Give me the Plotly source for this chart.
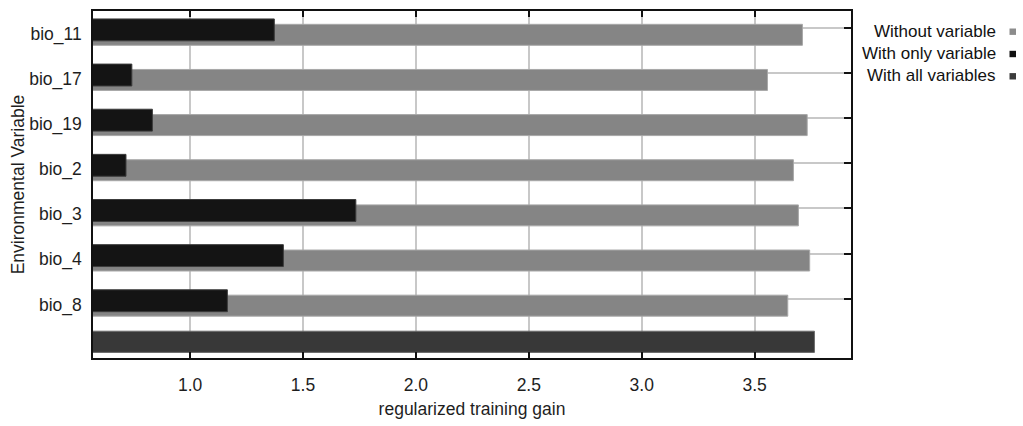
import plotly.graph_objects as go

# Jackknife of regularized training gain
variables = ["bio_11", "bio_17", "bio_19", "bio_2", "bio_3", "bio_4", "bio_8"]
gain_without = [3.712, 3.557, 3.733, 3.672, 3.694, 3.744, 3.647]
gain_only = [1.373, 0.742, 0.833, 0.716, 1.734, 1.413, 1.165]
gain_all = 3.765

x_ticks = [1.0, 1.5, 2.0, 2.5, 3.0, 3.5]
legend_names = ["Without variable", "With only variable", "With all variables"]

C_WITHOUT = "#858585"
C_ONLY = "#141414"
C_ALL = "#383838"
FONT = "Liberation Sans, Arial, sans-serif"
TXT = "#1e1e1e"

rows = list(range(len(variables)))
all_row = len(variables)

fig = go.Figure()

fig.add_trace(go.Bar(
    y=rows, x=gain_without, orientation="h",
    offset=-0.205, width=0.465,
    marker=dict(color=C_WITHOUT, line=dict(color="#a8a8a8", width=1)),
    name=legend_names[0], showlegend=False,
))
fig.add_trace(go.Bar(
    y=rows, x=gain_only, orientation="h",
    offset=-0.324, width=0.485,
    marker=dict(color=C_ONLY, line=dict(color="#3c3c3c", width=1)),
    name=legend_names[1], showlegend=False,
))
fig.add_trace(go.Bar(
    y=[all_row], x=[gain_all], orientation="h",
    offset=-0.407, width=0.47,
    marker=dict(color=C_ALL, line=dict(color="#6a6a6a", width=1)),
    name=legend_names[2], showlegend=False,
))

grid_rows = [r - 0.126 for r in rows]

fig.update_layout(
    width=1023, height=426,
    margin=dict(l=93, r=172, t=9, b=68, pad=0),
    paper_bgcolor="white", plot_bgcolor="white",
    barmode="overlay",
    font=dict(family=FONT, size=17.5, color=TXT),
    showlegend=False,
    xaxis=dict(
        range=[0.570, 3.927],
        tickvals=x_ticks, ticktext=[f"{v:.1f}" for v in x_ticks],
        showgrid=True, gridcolor="#c8c8c8", gridwidth=1.5,
        ticks="inside", ticklen=6, tickwidth=1.5, tickcolor="#111",
        showline=True, linecolor="#111", linewidth=1.5, mirror="ticks",
        zeroline=False, ticklabelstandoff=10,
        title=dict(text="regularized training gain", standoff=9,
                   font=dict(size=17.5)),
    ),
    yaxis=dict(
        range=[7.187, -0.5],
        tickvals=rows, ticktext=variables,
        showgrid=False, zeroline=False, ticks="",
        minor=dict(tickmode="array", tickvals=grid_rows, showgrid=True,
                   gridcolor="#c8c8c8", gridwidth=1.5, ticks=""),
        showline=True, linecolor="#111", linewidth=1.5, mirror=True,
        ticklabelstandoff=6,
        title=dict(text="Environmental Variable", standoff=0,
                   font=dict(size=17.5)),
    ),
    yaxis2=dict(
        range=[7.187, -0.5], overlaying="y", side="right", anchor="x",
        tickvals=grid_rows, showticklabels=False, showgrid=False,
        ticks="inside", ticklen=7, tickwidth=1.5, tickcolor="#111",
        zeroline=False, showline=False,
    ),
)

# invisible trace so the right-hand axis is drawn
fig.add_trace(go.Scatter(x=[None], y=[None], yaxis="y2", showlegend=False,
                         hoverinfo="skip"))

# Title (sits above the top edge of the page)
fig.add_annotation(
    text="Jackknife of regularized training gain for",
    xref="paper", yref="paper", x=0, y=1, xshift=1,
    xanchor="left", yanchor="bottom", yshift=8.6,
    showarrow=False, font=dict(family=FONT, size=24, color="#000"),
)

# Legend on the right: text followed by a small swatch
legend_colors = ["#8c8c8c", "#111111", "#3c3c3c"]
for k, (name, col) in enumerate(zip(legend_names, legend_colors)):
    cy = 29.2 + 22.3 * k          # row centre, px from top of page
    fig.add_annotation(
        text=name, xref="paper", yref="paper", x=1, y=1,
        xanchor="right", yanchor="middle",
        xshift=997.5 - 851, yshift=-(cy - 9),
        showarrow=False, font=dict(family=FONT, size=17, color="#111"),
    )
    fig.add_shape(
        type="rect", xref="paper", yref="paper",
        xsizemode="pixel", ysizemode="pixel", xanchor=1, yanchor=1,
        x0=1009.5 - 851, x1=1016 - 851,
        y0=-(cy + 0.5 - 9) - 3.2, y1=-(cy + 0.5 - 9) + 3.2,
        fillcolor=col, line=dict(width=0),
    )

fig.write_html("out.html")
